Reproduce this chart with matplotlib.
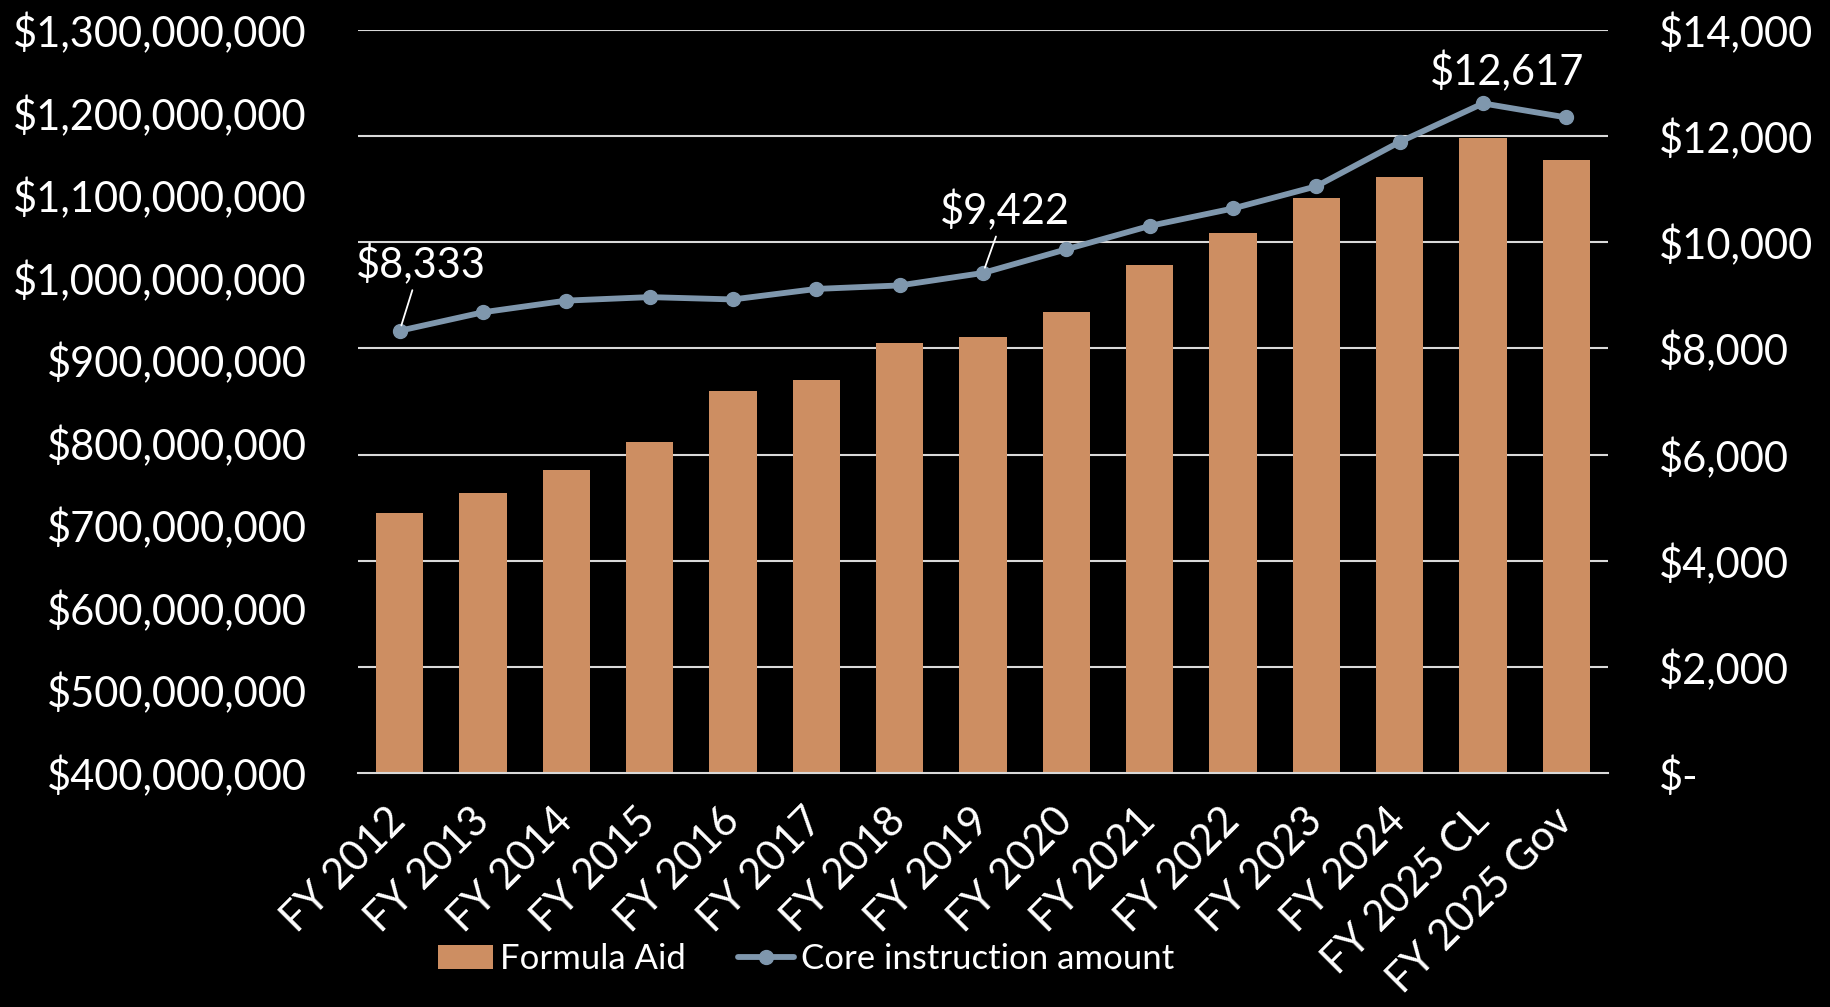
import matplotlib.pyplot as plt
from matplotlib.ticker import FuncFormatter, MultipleLocator
import numpy as np

years = ["FY 2012", "FY 2013", "FY 2014", "FY 2015", "FY 2016", "FY 2017", "FY 2018",
         "FY 2019", "FY 2020", "FY 2021", "FY 2022", "FY 2023", "FY 2024",
         "FY 2025 CL", "FY 2025 Gov"]
formula_aid = [715e6, 739e6, 767e6, 801e6, 863e6, 876e6, 921e6, 928e6, 958e6,
               1015e6, 1054e6, 1096e6, 1122e6, 1169e6, 1142e6]
core_amount = [8333, 8681, 8901, 8967, 8923, 9121, 9187, 9422, 9868, 10308,
               10637, 11055, 11890, 12617, 12352]
# labelled points: index -> text offset in points, leader line or not
labelled = {0: (15, 48, True), 7: (16, 45, True), 13: (17, 23, False)}

plt.rcParams['font.family'] = ['Lato', 'DejaVu Sans']
plt.rcParams['font.weight'] = 'normal'
TXT = 30
BAR_C = "#CD8E62"
LINE_C = "#7F97AD"
GRID_C = "#D9D9D9"

fig = plt.figure(figsize=(18.31, 10.07), dpi=100, facecolor="black")
ax = fig.add_axes([358/1831, 1 - 773/1007, 1250/1831, 743/1007])
ax.set_facecolor("black")
ax2 = ax.twinx()

x = np.arange(len(years))
ax2.set_zorder(ax.get_zorder() + 1)
ax2.patch.set_visible(False)

# gridlines come from the right axis but sit behind the bars
ax.set_ylim(400e6, 1300e6)
ax2.set_ylim(0, 14000)
for v in np.arange(2000, 14001, 2000):
    yy = 400e6 + v / 14000 * 900e6
    ax.axhline(yy, color=GRID_C, lw=1.5, zorder=0)
ax.bar(x, formula_aid, width=0.565, color=BAR_C, zorder=2, label="Formula Aid")
ax.set_xlim(-0.5, len(years) - 0.5)

ax2.plot(x, core_amount, color=LINE_C, lw=4.2, marker="o", ms=10,
         label="Core instruction amount", solid_capstyle="round")

for i, (dx, dy, arrow) in labelled.items():
    props = dict(arrowstyle="-", color="white", lw=1.3, shrinkA=2, shrinkB=4) if arrow else None
    ax2.annotate(f"${core_amount[i]:,}", (x[i], core_amount[i]), xytext=(dx, dy),
                 textcoords="offset points", ha="center", va="center",
                 color="white", fontsize=TXT, arrowprops=props)

ax.yaxis.set_major_locator(MultipleLocator(100e6))
ax.yaxis.set_major_formatter(FuncFormatter(lambda v, p: f"${v:,.0f}"))
ax2.yaxis.set_major_locator(MultipleLocator(2000))
ax2.yaxis.set_major_formatter(FuncFormatter(lambda v, p: "$-" if v == 0 else f"${v:,.0f}"))

ax.set_xticks(x)
ax.set_xticklabels(years, rotation=45, ha="right", va="center", rotation_mode="anchor")
for a in (ax, ax2):
    for s in a.spines.values():
        s.set_visible(False)
    a.tick_params(colors="white", labelsize=TXT, length=0)
ax.tick_params(axis="y", pad=37)
ax2.tick_params(axis="y", pad=37)
ax.tick_params(axis="x", pad=30)
ax.spines["bottom"].set_visible(True)
ax.spines["bottom"].set_color(GRID_C)
ax.spines["bottom"].set_linewidth(1.5)

h1, l1 = ax.get_legend_handles_labels()
h2, l2 = ax2.get_legend_handles_labels()
leg = fig.legend(h1 + h2, l1 + l2, loc="center", bbox_to_anchor=(806/1831, 1 - 959/1007),
                 ncol=2, frameon=False, fontsize=25, labelcolor="white",
                 handlelength=1.6, handletextpad=0.2, columnspacing=1.5)

fig.savefig("out.png", dpi=100, facecolor="black")
